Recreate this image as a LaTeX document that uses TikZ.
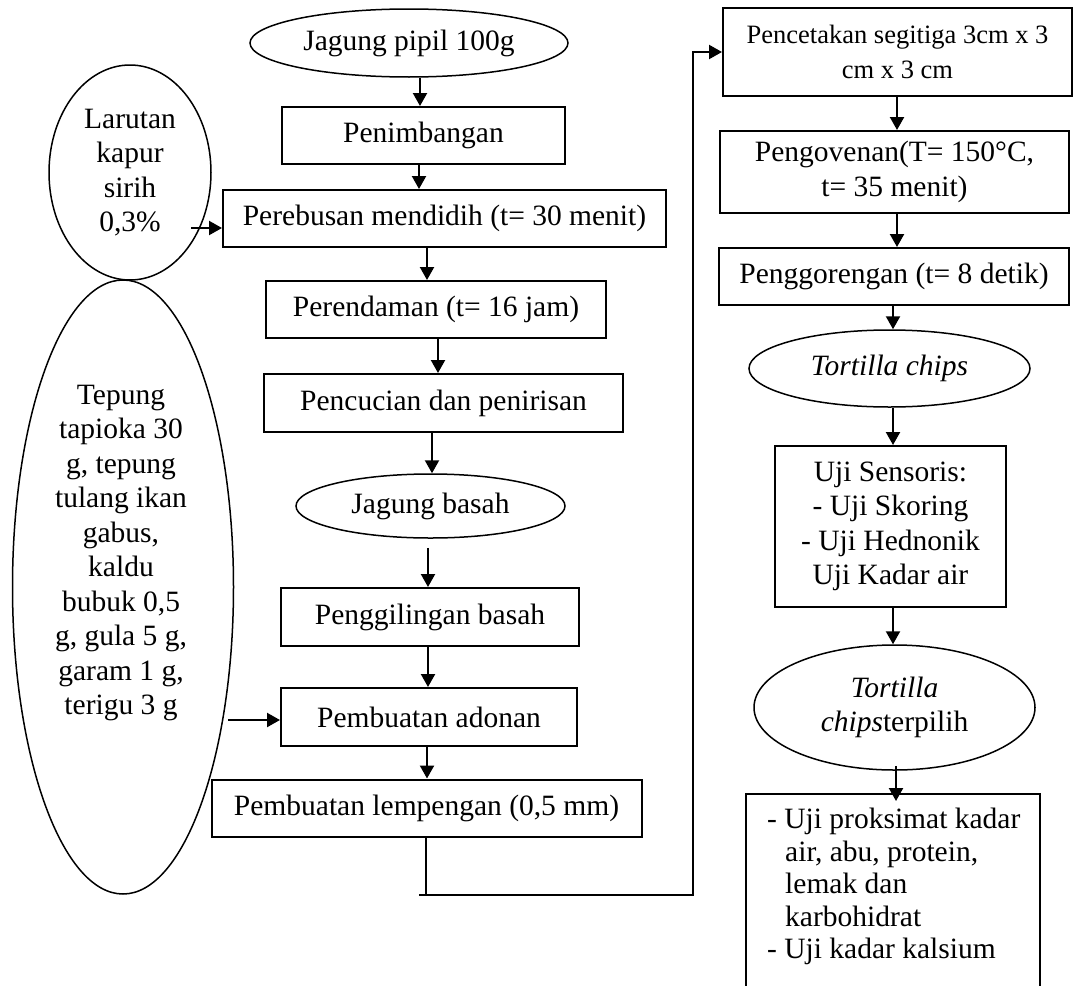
\documentclass[tikz,border=0pt]{standalone}
\usepackage{fontspec}
\setmainfont{Liberation Serif}
\usetikzlibrary{shapes.geometric, arrows.meta}
\newcommand{\teks}{\fontsize{29.5}{34.5}\selectfont}
\newcommand{\tekskecil}{\fontsize{26.5}{34.5}\selectfont}
\newcommand{\teksuji}{\fontsize{29.5}{32.5}\selectfont}
\newcommand{\geser}{\hspace*{18pt}}
\tikzset{
    kotak/.style = {draw, line width=2pt, inner sep=0pt, align=center, font=\teks},
    elips/.style = {draw, ellipse, line width=1.5pt, inner sep=0pt, align=center, font=\teks},
    panah/.style = {-{Triangle[length=13pt, width=14pt]}, line width=2.2pt},
    garis/.style = {line width=2.2pt}
}

\begin{document}
\begin{tikzpicture}[x=1pt, y=-1pt]
    \clip (0,0) rectangle (1073,985);

    % Kolom tengah
    \node[elips, minimum width=318pt, minimum height=68pt] (jagung) at (409,43) {Jagung pipil 100g};
    \node[kotak, minimum width=283pt, minimum height=57pt] (penimbangan) at (423.5,135.5) {Penimbangan};
    \node[kotak, minimum width=443pt, minimum height=57pt] (perebusan) at (444.5,218.5) {Perebusan mendidih (t= 30 menit)};
    \node[kotak, minimum width=340pt, minimum height=57pt] (perendaman) at (436,309.5) {Perendaman (t= 16 jam)};
    \node[kotak, minimum width=359pt, minimum height=58pt] (pencucian) at (443.5,403) {Pencucian dan penirisan};
    \node[elips, minimum width=269pt, minimum height=64pt] (jagungbasah) at (430.5,506) {Jagung basah};
    \node[kotak, minimum width=298pt, minimum height=58pt] (penggilingan) at (430,617) {Penggilingan basah};
    \node[kotak, minimum width=296pt, minimum height=58pt] (adonan) at (429,717) {Pembuatan adonan};
    \node[kotak, minimum width=430pt, minimum height=57pt] (lempengan) at (426.5,808) {Pembuatan lempengan (0,5 mm)};

    % Bahan tambahan
    \node[elips, minimum width=162pt, minimum height=215pt] (larutan) at (130,172.5) {Larutan\\kapur\\sirih\\0,3\%};
    \node[elips, minimum width=221pt, minimum height=614pt] (tepung) at (123,587) {};
    \node[align=center, font=\teks, inner sep=0pt] (tepungtxt) at (121,553)
        {Tepung\\tapioka 30\\g, tepung\\tulang ikan\\gabus,\\kaldu\\bubuk 0,5\\g, gula 5 g,\\garam 1 g,\\terigu 3 g};

    % Kolom kanan
    \node[kotak, font=\tekskecil, minimum width=349pt, minimum height=88pt] (pencetakan) at (897.5,52) {Pencetakan segitiga 3cm x 3\\cm x 3 cm};
    \node[kotak, minimum width=349pt, minimum height=82pt] (pengovenan) at (894.5,172) {Pengovenan(T= 150°C,\\t= 35 menit)};
    \node[kotak, minimum width=350pt, minimum height=57pt] (penggorengan) at (894,276.5) {Penggorengan (t= 8 detik)};
    \node[elips, minimum width=281pt, minimum height=77pt] (chips) at (889.5,368.5) {\textit{Tortilla chips}};
    \node[kotak, minimum width=231pt, minimum height=161pt] (sensoris) at (890.5,526.5) {Uji Sensoris:\\- Uji Skoring\\- Uji Hednonik\\Uji Kadar air};
    \node[elips, minimum width=281pt, minimum height=125pt] (terpilih) at (894.5,707.5) {\textit{Tortilla}\\\textit{chips}terpilih};
    \node[draw, line width=2pt, inner sep=0pt, anchor=north west, minimum width=294pt, minimum height=207pt] (ujiprox) at (745,793) {};
    \node[align=left, font=\teksuji, inner sep=0pt, anchor=north west] (ujiproxtxt) at (767,808)
        {- Uji proksimat kadar\\\geser air, abu, protein,\\\geser lemak dan\\\geser karbohidrat\\- Uji kadar kalsium};

    % Panah kolom tengah
    \draw[panah] (jagung.south -| 420,0) -- (penimbangan.north -| 420,0);
    \draw[panah] (penimbangan.south -| 419,0) -- (perebusan.north -| 419,0);
    \draw[panah] (perebusan.south -| 427,0) -- (perendaman.north -| 427,0);
    \draw[panah] (perendaman.south -| 438,0) -- (pencucian.north -| 438,0);
    \draw[panah] (pencucian.south -| 432,0) -- (jagungbasah.north -| 432,0);
    \draw[panah, shorten <=9pt] (jagungbasah.south -| 428,0) -- (penggilingan.north -| 428,0);
    \draw[panah] (penggilingan.south -| 428,0) -- (adonan.north -| 428,0);
    \draw[panah] (adonan.south -| 427,0) -- (lempengan.north -| 427,0);

    % Panah bahan tambahan
    \coordinate (masukkapur) at (191,228);
    \draw[panah] (masukkapur) -- (masukkapur -| perebusan.west);
    \coordinate (masukbahan) at (228,720);
    \draw[panah] (masukbahan) -- (masukbahan -| adonan.west);

    % Sambungan ke kolom kanan
    \coordinate (bawah) at (426,895);
    \coordinate (kanan) at (693,895);
    \draw[garis] (lempengan.south -| bawah) -- (bawah);
    \draw[panah] ([xshift=-7pt]bawah) -- (kanan) -- (kanan |- pencetakan.west) -- (pencetakan.west);

    % Panah kolom kanan
    \draw[panah] (pencetakan.south -| 897,0) -- (pengovenan.north -| 897,0);
    \draw[panah] (pengovenan.south -| 897,0) -- (penggorengan.north -| 897,0);
    \draw[panah] (penggorengan.south -| 893,0) -- (chips.north -| 893,0);
    \draw[panah] (chips.south -| 893,0) -- (sensoris.north -| 893,0);
    \draw[panah] (sensoris.south -| 893,0) -- (terpilih.north -| 893,0);
    \draw[panah, shorten <=-5pt, shorten >=-8pt] (terpilih.south -| 896,0) -- (ujiprox.north -| 896,0);
\end{tikzpicture}
\end{document}
